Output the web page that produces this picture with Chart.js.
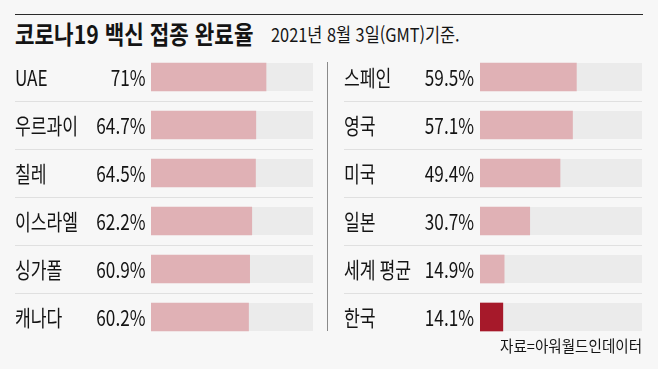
<!DOCTYPE html>
<html lang="ko">
<head>
<meta charset="utf-8">
<script src="https://cdn.jsdelivr.net/npm/chart.js@4.4.1/dist/chart.umd.min.js"></script>
<style>
    body { margin: 0; background: #f7f7f7; }
    #wrap { position: relative; width: 658px; height: 369px; overflow: hidden; background: #f7f7f7; font-family: 'Noto Sans CJK KR', sans-serif; color: #141414; }
    .topline { position: absolute; left: 15px; top: 14px; width: 628px; height: 1px; background: #2a2a2a; }
    .title { position: absolute; left: 15px; top: 18px; font-size: 25px; font-weight: 700; line-height: 1.2; white-space: nowrap; transform: scaleX(0.85); transform-origin: left top; }
    .subtitle { position: absolute; left: 271px; top: 23px; font-size: 19px; line-height: 1.2; white-space: nowrap; transform: scaleX(0.86); transform-origin: left top; }
    .divider { position: absolute; left: 327px; top: 62px; width: 1px; height: 269px; background: #8a8a8a; }
    .source { position: absolute; right: 16px; top: 336px; font-size: 16px; line-height: 1.2; white-space: nowrap; transform: scaleX(0.91); transform-origin: right top; }
    canvas { position: absolute; top: 0; }
</style>
</head>
<body>
<div id="wrap">
    <div class="topline"></div>
    <div class="title">코로나19 백신 접종 완료율</div>
    <div class="subtitle">2021년 8월 3일(GMT)기준.</div>
    <canvas id="leftChart" width="327" height="369" style="left:0px"></canvas>
    <canvas id="rightChart" width="331" height="369" style="left:327px"></canvas>
    <div class="divider"></div>
    <div class="source">자료=아워월드인데이터</div>
</div>
<script>
// Data
const leftNames = ['UAE', '우르과이', '칠레', '이스라엘', '싱가폴', '캐나다'];
const leftValues = [71, 64.7, 64.5, 62.2, 60.9, 60.2];
const rightNames = ['스페인', '영국', '미국', '일본', '세계 평균', '한국'];
const rightValues = [59.5, 57.1, 49.4, 30.7, 14.9, 14.1];
const highlightName = '한국';

const barColor = '#e0b1b5';
const highlightColor = '#a6192a';
const trackColor = '#ebebeb';
const lineColor = '#e0e0e0';

// Draws the grey track, row separators and the name / value texts
const rowPlugin = {
    id: 'rows',
    beforeDatasetsDraw(chart, args, opts) {
        const ctx = chart.ctx;
        const area = chart.chartArea;
        const yScale = chart.scales.y;
        const n = chart.data.labels.length;
        ctx.save();
        // separators
        ctx.strokeStyle = lineColor;
        ctx.lineWidth = 1;
        for (let i = 0; i < n - 1; i++) {
            const y = Math.round((yScale.getPixelForValue(i) + yScale.getPixelForValue(i + 1)) / 2) + 0.5;
            ctx.beginPath();
            ctx.moveTo(opts.nameX, y);
            ctx.lineTo(area.right, y);
            ctx.stroke();
        }
        // tracks behind the bars
        ctx.fillStyle = trackColor;
        chart.getDatasetMeta(0).data.forEach(bar => {
            const h = bar.height;
            ctx.fillRect(area.left, bar.y - h / 2, area.right - area.left, h);
        });
        ctx.restore();
    },
    afterDatasetsDraw(chart, args, opts) {
        const ctx = chart.ctx;
        const yScale = chart.scales.y;
        const values = chart.data.datasets[0].data;
        ctx.save();
        ctx.fillStyle = '#141414';
        ctx.font = '22px "Noto Sans CJK KR"';
        ctx.textBaseline = 'alphabetic';
        chart.data.labels.forEach((name, i) => {
            const y = yScale.getPixelForValue(i) + 8.5;
            ctx.save();
            ctx.translate(opts.nameX, y);
            ctx.scale(0.78, 1);
            ctx.textAlign = 'left';
            ctx.fillText(name, 0, 0);
            ctx.restore();
            ctx.save();
            ctx.translate(opts.valueX, y);
            ctx.scale(0.78, 1);
            ctx.textAlign = 'right';
            ctx.fillText(values[i] + '%', 0, 0);
            ctx.restore();
        });
        ctx.restore();
    }
};

function makeChart(id, names, values, padding, nameX, valueX) {
    const ctx = document.getElementById(id).getContext('2d');
    return new Chart(ctx, {
        type: 'bar',
        data: {
            labels: names,
            datasets: [{
                data: values,
                backgroundColor: names.map(n => n === highlightName ? highlightColor : barColor),
                borderWidth: 0,
                barThickness: 28
            }]
        },
        options: {
            indexAxis: 'y',
            responsive: false,
            animation: false,
            devicePixelRatio: 1,
            layout: { padding: padding },
            scales: {
                x: { min: 0, max: 100, display: false },
                y: { display: false }
            },
            plugins: {
                legend: { display: false },
                tooltip: { enabled: false },
                rows: { nameX: nameX, valueX: valueX }
            }
        },
        plugins: [rowPlugin]
    });
}

makeChart('leftChart', leftNames, leftValues, { left: 151, right: 14, top: 53, bottom: 28 }, 15, 145.5);
makeChart('rightChart', rightNames, rightValues, { left: 153, right: 16, top: 53, bottom: 28 }, 17, 147);
</script>
</body>
</html>
